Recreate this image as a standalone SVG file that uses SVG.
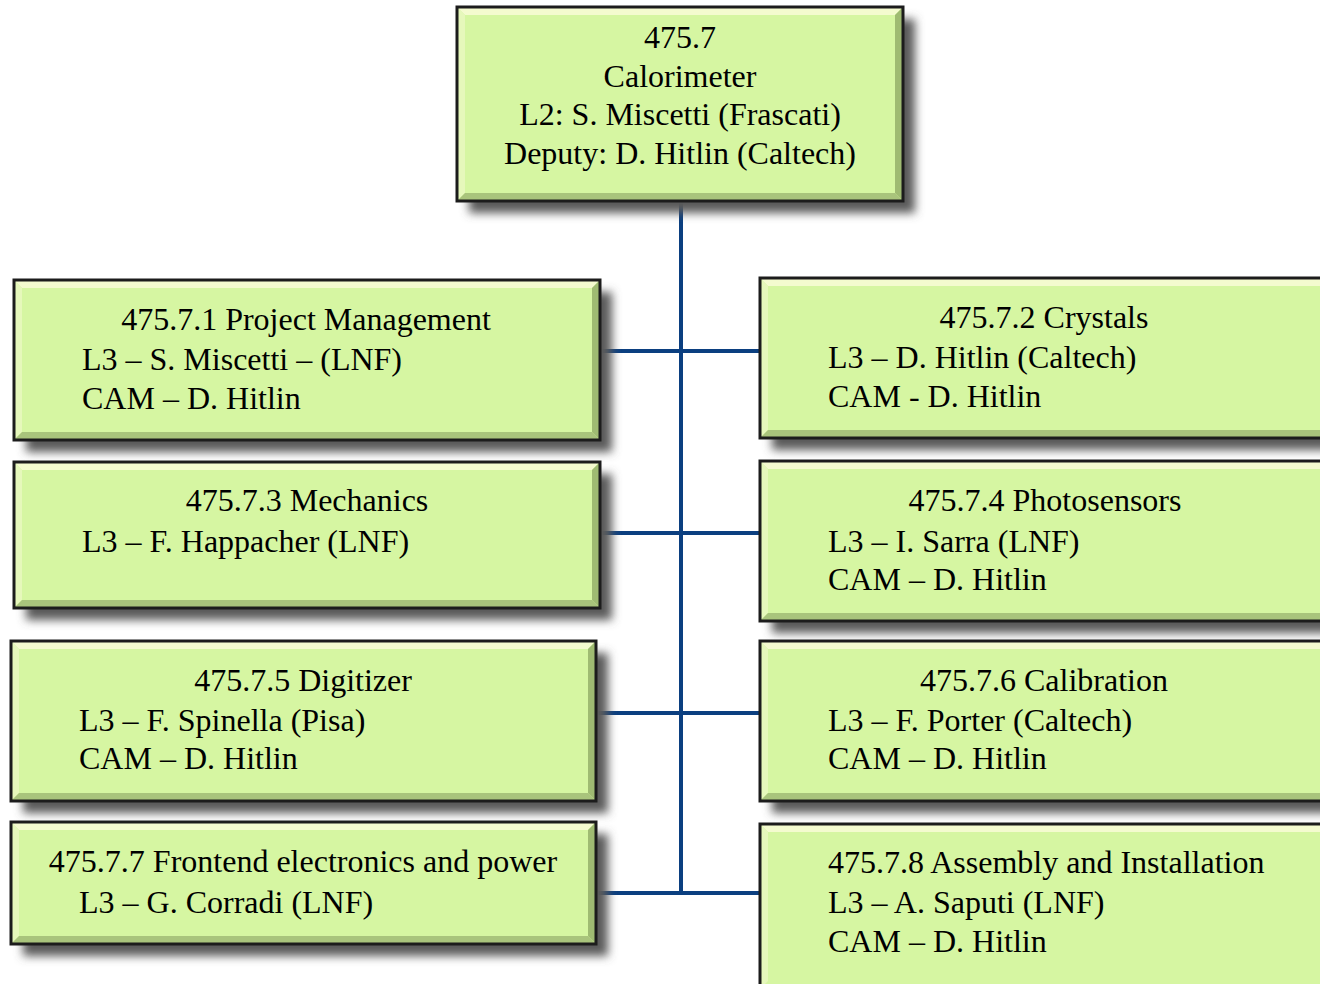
<svg xmlns="http://www.w3.org/2000/svg" width="1320" height="984" viewBox="0 0 1320 984">
<style>
.bg{fill:#ffffff}
.sh{fill:#5a5a5a;filter:url(#blur)}
.box{fill:#d6f6a2}
.frame{fill:none;stroke:#1c1c1c;stroke-width:3}
.lt{fill:#f4fbcf}
.ll{fill:#e6f8bb}
.bb{fill:#a9c47c}
.br{fill:#9fbb72}
.conn{stroke:#0b3f80;stroke-width:4;fill:none}
text{font-family:"Liberation Serif","Times New Roman",serif;font-size:32px;fill:#000}
.c{text-anchor:middle}
</style>
<defs>
<filter id="blur" x="-10%" y="-20%" width="120%" height="140%"><feGaussianBlur stdDeviation="5"/></filter>
</defs>
<rect class="bg" x="0" y="0" width="1320" height="984"/>

<g id="connectors">
<line class="conn" x1="681" y1="201" x2="681" y2="895"/>
<line class="conn" x1="600" y1="351" x2="760" y2="351"/>
<line class="conn" x1="600" y1="533" x2="760" y2="533"/>
<line class="conn" x1="596" y1="713" x2="760" y2="713"/>
<line class="conn" x1="596" y1="893" x2="760" y2="893"/>
</g>

<g id="n0">
<rect class="sh" x="469" y="19" width="446" height="194"/>
<rect class="box" x="457" y="7" width="446" height="194"/>
<polygon class="lt" points="457,7 903,7 895,15 465,15"/>
<polygon class="ll" points="457,7 465,15 465,193 457,201"/>
<polygon class="bb" points="457,201 465,193 895,193 903,201"/>
<polygon class="br" points="903,7 903,201 895,193 895,15"/>
<rect class="frame" x="457" y="7" width="446" height="194"/>
<text class="c" x="680" y="48">475.7</text>
<text class="c" x="680" y="87">Calorimeter</text>
<text class="c" x="680" y="125">L2: S. Miscetti (Frascati)</text>
<text class="c" x="680" y="164">Deputy: D. Hitlin (Caltech)</text>
</g>

<g id="n1">
<rect class="sh" x="26" y="292" width="586" height="160"/>
<rect class="box" x="14" y="280" width="586" height="160"/>
<polygon class="lt" points="14,280 600,280 592,288 22,288"/>
<polygon class="ll" points="14,280 22,288 22,432 14,440"/>
<polygon class="bb" points="14,440 22,432 592,432 600,440"/>
<polygon class="br" points="600,280 600,440 592,432 592,288"/>
<rect class="frame" x="14" y="280" width="586" height="160"/>
<text class="c" x="306" y="330">475.7.1 Project Management</text>
<text x="82" y="370">L3 – S. Miscetti – (LNF)</text>
<text x="82" y="409">CAM – D. Hitlin</text>
</g>

<g id="n3">
<rect class="sh" x="26" y="474" width="586" height="146"/>
<rect class="box" x="14" y="462" width="586" height="146"/>
<polygon class="lt" points="14,462 600,462 592,470 22,470"/>
<polygon class="ll" points="14,462 22,470 22,600 14,608"/>
<polygon class="bb" points="14,608 22,600 592,600 600,608"/>
<polygon class="br" points="600,462 600,608 592,600 592,470"/>
<rect class="frame" x="14" y="462" width="586" height="146"/>
<text class="c" x="307" y="511">475.7.3 Mechanics</text>
<text x="82" y="552">L3 – F. Happacher (LNF)</text>
</g>

<g id="n5">
<rect class="sh" x="23" y="653" width="585" height="160"/>
<rect class="box" x="11" y="641" width="585" height="160"/>
<polygon class="lt" points="11,641 596,641 588,649 19,649"/>
<polygon class="ll" points="11,641 19,649 19,793 11,801"/>
<polygon class="bb" points="11,801 19,793 588,793 596,801"/>
<polygon class="br" points="596,641 596,801 588,793 588,649"/>
<rect class="frame" x="11" y="641" width="585" height="160"/>
<text class="c" x="303" y="691">475.7.5 Digitizer</text>
<text x="79" y="731">L3 – F. Spinella (Pisa)</text>
<text x="79" y="769">CAM – D. Hitlin</text>
</g>

<g id="n7">
<rect class="sh" x="23" y="834" width="585" height="122"/>
<rect class="box" x="11" y="822" width="585" height="122"/>
<polygon class="lt" points="11,822 596,822 588,830 19,830"/>
<polygon class="ll" points="11,822 19,830 19,936 11,944"/>
<polygon class="bb" points="11,944 19,936 588,936 596,944"/>
<polygon class="br" points="596,822 596,944 588,936 588,830"/>
<rect class="frame" x="11" y="822" width="585" height="122"/>
<text class="c" x="303" y="872">475.7.7 Frontend electronics and power</text>
<text x="79" y="913">L3 – G. Corradi (LNF)</text>
</g>

<g id="n2">
<rect class="sh" x="772" y="290" width="570" height="160"/>
<rect class="box" x="760" y="278" width="570" height="160"/>
<polygon class="lt" points="760,278 1330,278 1322,286 768,286"/>
<polygon class="ll" points="760,278 768,286 768,430 760,438"/>
<polygon class="bb" points="760,438 768,430 1322,430 1330,438"/>
<rect class="frame" x="760" y="278" width="570" height="160"/>
<text class="c" x="1044" y="328">475.7.2 Crystals</text>
<text x="828" y="368">L3 – D. Hitlin (Caltech)</text>
<text x="828" y="407">CAM - D. Hitlin</text>
</g>

<g id="n4">
<rect class="sh" x="772" y="473" width="570" height="160"/>
<rect class="box" x="760" y="461" width="570" height="160"/>
<polygon class="lt" points="760,461 1330,461 1322,469 768,469"/>
<polygon class="ll" points="760,461 768,469 768,613 760,621"/>
<polygon class="bb" points="760,621 768,613 1322,613 1330,621"/>
<rect class="frame" x="760" y="461" width="570" height="160"/>
<text class="c" x="1045" y="511">475.7.4 Photosensors</text>
<text x="828" y="552">L3 – I. Sarra (LNF)</text>
<text x="828" y="590">CAM – D. Hitlin</text>
</g>

<g id="n6">
<rect class="sh" x="772" y="653" width="570" height="160"/>
<rect class="box" x="760" y="641" width="570" height="160"/>
<polygon class="lt" points="760,641 1330,641 1322,649 768,649"/>
<polygon class="ll" points="760,641 768,649 768,793 760,801"/>
<polygon class="bb" points="760,801 768,793 1322,793 1330,801"/>
<rect class="frame" x="760" y="641" width="570" height="160"/>
<text class="c" x="1044" y="691">475.7.6 Calibration</text>
<text x="828" y="731">L3 – F. Porter (Caltech)</text>
<text x="828" y="769">CAM – D. Hitlin</text>
</g>

<g id="n8">
<rect class="sh" x="772" y="836" width="570" height="165"/>
<rect class="box" x="760" y="824" width="570" height="165"/>
<polygon class="lt" points="760,824 1330,824 1322,832 768,832"/>
<polygon class="ll" points="760,824 768,832 768,981 760,989"/>
<rect class="frame" x="760" y="824" width="570" height="165"/>
<text x="828" y="873">475.7.8 Assembly and Installation</text>
<text x="828" y="913">L3 – A. Saputi (LNF)</text>
<text x="828" y="952">CAM – D. Hitlin</text>
</g>
</svg>
